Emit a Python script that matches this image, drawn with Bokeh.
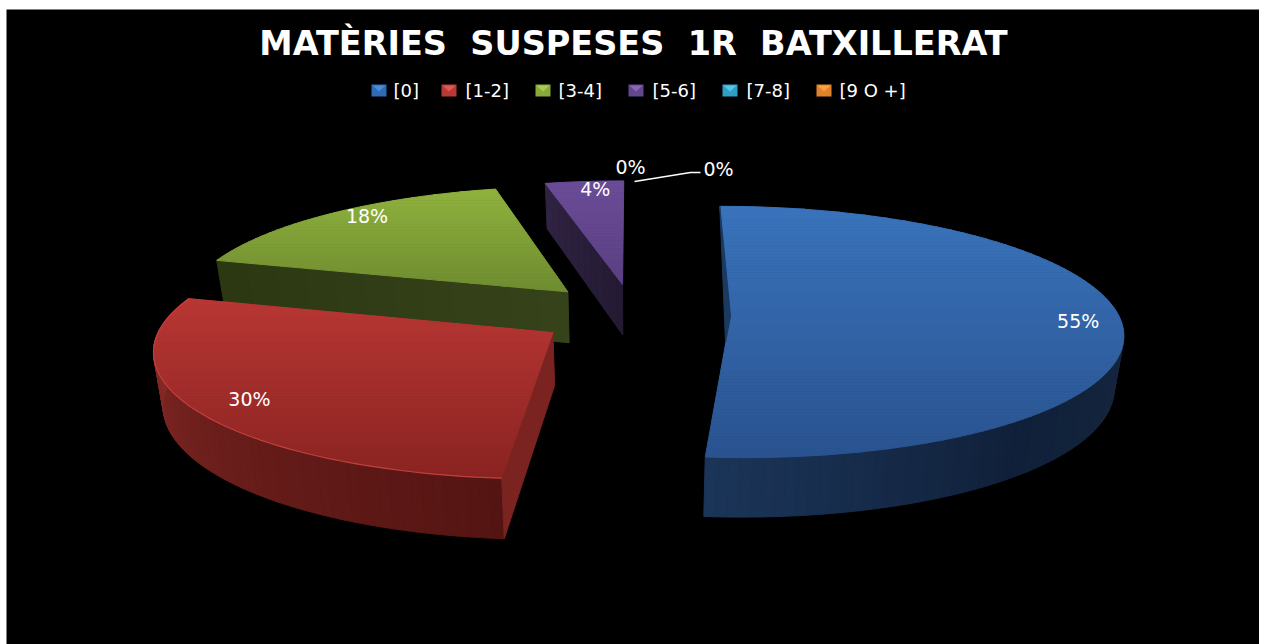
import math
from bokeh.plotting import figure
from bokeh.models import Range1d
from bokeh.core.properties import value
from bokeh.embed import file_html
from bokeh.resources import INLINE

# ---- data
TITLE = "MATÈRIES  SUSPESES  1R  BATXILLERAT"
CATEGORIES = ["[0]", "[1-2]", "[3-4]", "[5-6]", "[7-8]", "[9 O +]"]
VALUES = [55, 30, 18, 4, 0, 0]
LABELS = ["55%", "30%", "18%", "4%", "0%", "0%"]

# ---- projection of the exploded, tilted pie (page-pixel scale)
CX, CY = 633.0, 314.5
R = 388.0
EXPLODE = [97, 96, 94, 96, 92, 92]
NUDGE = [(0, 0), (0, 0), (-2, -2), (0, -1), (0, 0), (0, 0)]
S, K = 0.318, 0.00032
DEPTH = 52.0
SHRINK = 0.02

# ---- styles
TOP = [("#3a74bc", "#2a5390"), ("#b83734", "#8a2422"), ("#8fb23e", "#6f8c30"),
       ("#6b4c98", "#5b4082"), ("#3a9ab5", "#2f8aa5"), ("#e88a35", "#d07a2a")]
SWATCH = ["#2f6ab4", "#b83a38", "#86ab3a", "#65478f", "#2fa0c4", "#e0822a"]
SWATCH_HI = ["#4d8cd8", "#e05a55", "#a8cc55", "#8a68b8", "#55c8e8", "#ffa040"]
LEGEND_SW_X = [371, 441, 535, 628, 722, 816]
LEGEND_TX_X = [393, 465, 558, 652, 746, 839]
LABEL_FRAC = [0.89, 0.86, 0.91, 0.92]
LABEL_DANG = [0, 0, 3.5, 1.5]
WALL = {0: [(85, "#17293f"), (140, "#10203a"), (185, "#1b3558")],
        1: [(185, "#541412"), (230, "#6a1e1b"), (280, "#8e2c2a")]}
WALL_SPAN = {0: (85, 186), 1: (184, 280)}
CUT = {1: ("#7a2320", "#7e2724"), 2: ("#2c3712", "#36441a"), 3: ("#302342", "#231a32")}


def hexrgb(h):
    return tuple(int(h[i:i + 2], 16) for i in (1, 3, 5))


def mix(a, b, t):
    ra, rb = hexrgb(a), hexrgb(b)
    t = max(0.0, min(1.0, t))
    return "#%02x%02x%02x" % tuple(round(x + (y - x) * t) for x, y in zip(ra, rb))


def proj(u, v, z=0.0, nudge=(0, 0)):
    w = 1 + K * v
    x = CX + u / w * (1 - SHRINK * z) + nudge[0]
    y = CY - S * v / w + z * DEPTH / w + nudge[1]
    return x, y


def pt(ang, r, off, z=0.0, nudge=(0, 0)):
    a = math.radians(ang)
    return proj(off[0] + r * math.sin(a), off[1] + r * math.cos(a), z, nudge)


def clip(poly, y0, y1):
    def half(pts, keep, ycut):
        out = []
        for i, q0 in enumerate(pts):
            q1 = pts[(i + 1) % len(pts)]
            k0, k1 = keep(q0[1]), keep(q1[1])
            if k0:
                out.append(q0)
            if k0 != k1:
                t = (ycut - q0[1]) / (q1[1] - q0[1])
                out.append((q0[0] + (q1[0] - q0[0]) * t, ycut))
        return out
    r = half(poly, lambda y: y >= y0, y0)
    return half(r, lambda y: y <= y1, y1) if r else r


total = sum(VALUES)
slices = []
start = 0.0
for i, val in enumerate(VALUES):
    sweep = 360.0 * val / total
    mid = math.radians(start + sweep / 2)
    slices.append((start, sweep, (EXPLODE[i] * math.sin(mid), EXPLODE[i] * math.cos(mid))))
    start += sweep

p = figure(width=1253, height=635, output_backend="svg", toolbar_location=None,
           x_range=Range1d(6, 1259), y_range=Range1d(644, 9),
           min_border=0, background_fill_color="black", border_fill_color="black",
           outline_line_color=None)
p.axis.visible = False
p.grid.visible = False
p.styles = {"margin-left": "6px", "margin-top": "9px"}

xs, ys, cols = [], [], []


def add(poly, col):
    xs.append([q[0] for q in poly])
    ys.append([q[1] for q in poly])
    cols.append(col)


def wall_col(i, ang):
    stops = WALL[i]
    for (a0, c0), (a1, c1) in zip(stops, stops[1:]):
        if ang <= a1:
            return mix(c0, c1, (ang - a0) / (a1 - a0))
    return stops[-1][1]


def lerp(a, b, t):
    return (a[0] + (b[0] - a[0]) * t, a[1] + (b[1] - a[1]) * t)


# painter's order: back slices first
for i in [2, 3, 1, 0]:
    st, sw, off = slices[i]
    nd = NUDGE[i]
    n = max(8, int(sw / 1.5))
    angs = [st + sw * k / n for k in range(n + 1)]
    apex = proj(off[0], off[1], 0, nd)
    apex_b = proj(off[0], off[1], 1, nd)
    rim = [pt(a, R, off, 0, nd) for a in angs]
    rim_b = [pt(a, R, off, 1, nd) for a in angs]
    if i in WALL:
        lo, hi = WALL_SPAN[i]
        for k in range(n):
            am = (angs[k] + angs[k + 1]) / 2
            if lo <= am <= hi:
                add([rim[k], rim[k + 1], rim_b[k + 1], rim_b[k]], wall_col(i, am))
    if i == 1:
        add([apex, rim[0], rim_b[0], apex_b], CUT[1][0])
    if i in (2, 3):
        m = 12
        for k in range(m):
            t0, t1 = k / m, (k + 1) / m
            add([lerp(rim[0], apex, t0), lerp(rim[0], apex, t1),
                 lerp(rim_b[0], apex_b, t1), lerp(rim_b[0], apex_b, t0)],
                mix(CUT[i][0], CUT[i][1], (t0 + t1) / 2))
    poly = [apex] + rim
    ymin = min(q[1] for q in poly)
    ymax = max(q[1] for q in poly)
    bands = int((ymax - ymin) / 3) + 1
    for b in range(bands):
        y0 = ymin + (ymax - ymin) * b / bands
        y1 = ymin + (ymax - ymin) * (b + 1) / bands
        part = clip(poly, y0, y1)
        if len(part) >= 3:
            add(part, mix(TOP[i][0], TOP[i][1], (b + 0.5) / bands))
    if i == 0:
        add([rim[0], apex, (apex[0] - 5, apex[1] + 26)], "#1c3a60")

p.patches(xs, ys, fill_color=cols, line_color=cols, line_width=1)

st, sw, off = slices[1]
hl = [pt(st + sw * k / 60, R, off) for k in range(61)]
p.line([q[0] for q in hl], [q[1] for q in hl], line_color="#c23f3b", line_width=1.2)

lx, ly, lt = [], [], []
for i in range(4):
    st, sw, off = slices[i]
    x, y = pt(st + sw / 2 + LABEL_DANG[i], R * LABEL_FRAC[i], off, 0, NUDGE[i])
    lx.append(x)
    ly.append(y)
    lt.append(LABELS[i])
lx += [630, 718]
ly += [166, 168]
lt += LABELS[4:]
p.text(lx, ly, text=lt, text_color="white", text_font=value("DejaVu Sans"), text_font_size="19px",
       text_align="center", text_baseline="middle")
p.line([634, 690, 700], [181, 172, 172], line_color="white", line_width=1.3)

p.text([633], [43], text=[TITLE.replace("  ", "\u00a0\u00a0")], text_color="white",
       text_font=value("DejaVu Sans"), text_font_style="bold",
       text_font_size="33.5px", text_align="center", text_baseline="middle")

lg_y = 90
sx, sy, sc = [], [], []
for i, x in enumerate(LEGEND_SW_X):
    sx.append([x, x + 15, x + 15, x]); sy.append([lg_y - 6, lg_y - 6, lg_y + 6, lg_y + 6]); sc.append(SWATCH[i])
    sx.append([x + 1, x + 14, x + 7.5]); sy.append([lg_y - 5, lg_y - 5, lg_y + 1]); sc.append(SWATCH_HI[i])
p.patches(sx, sy, fill_color=sc, line_color=None)
p.text(LEGEND_TX_X, [lg_y] * 6, text=CATEGORIES, text_color="white", text_font=value("DejaVu Sans"),
       text_font_size="18px", text_align="left", text_baseline="middle")

open("out.html", "w").write(file_html(p, INLINE))
